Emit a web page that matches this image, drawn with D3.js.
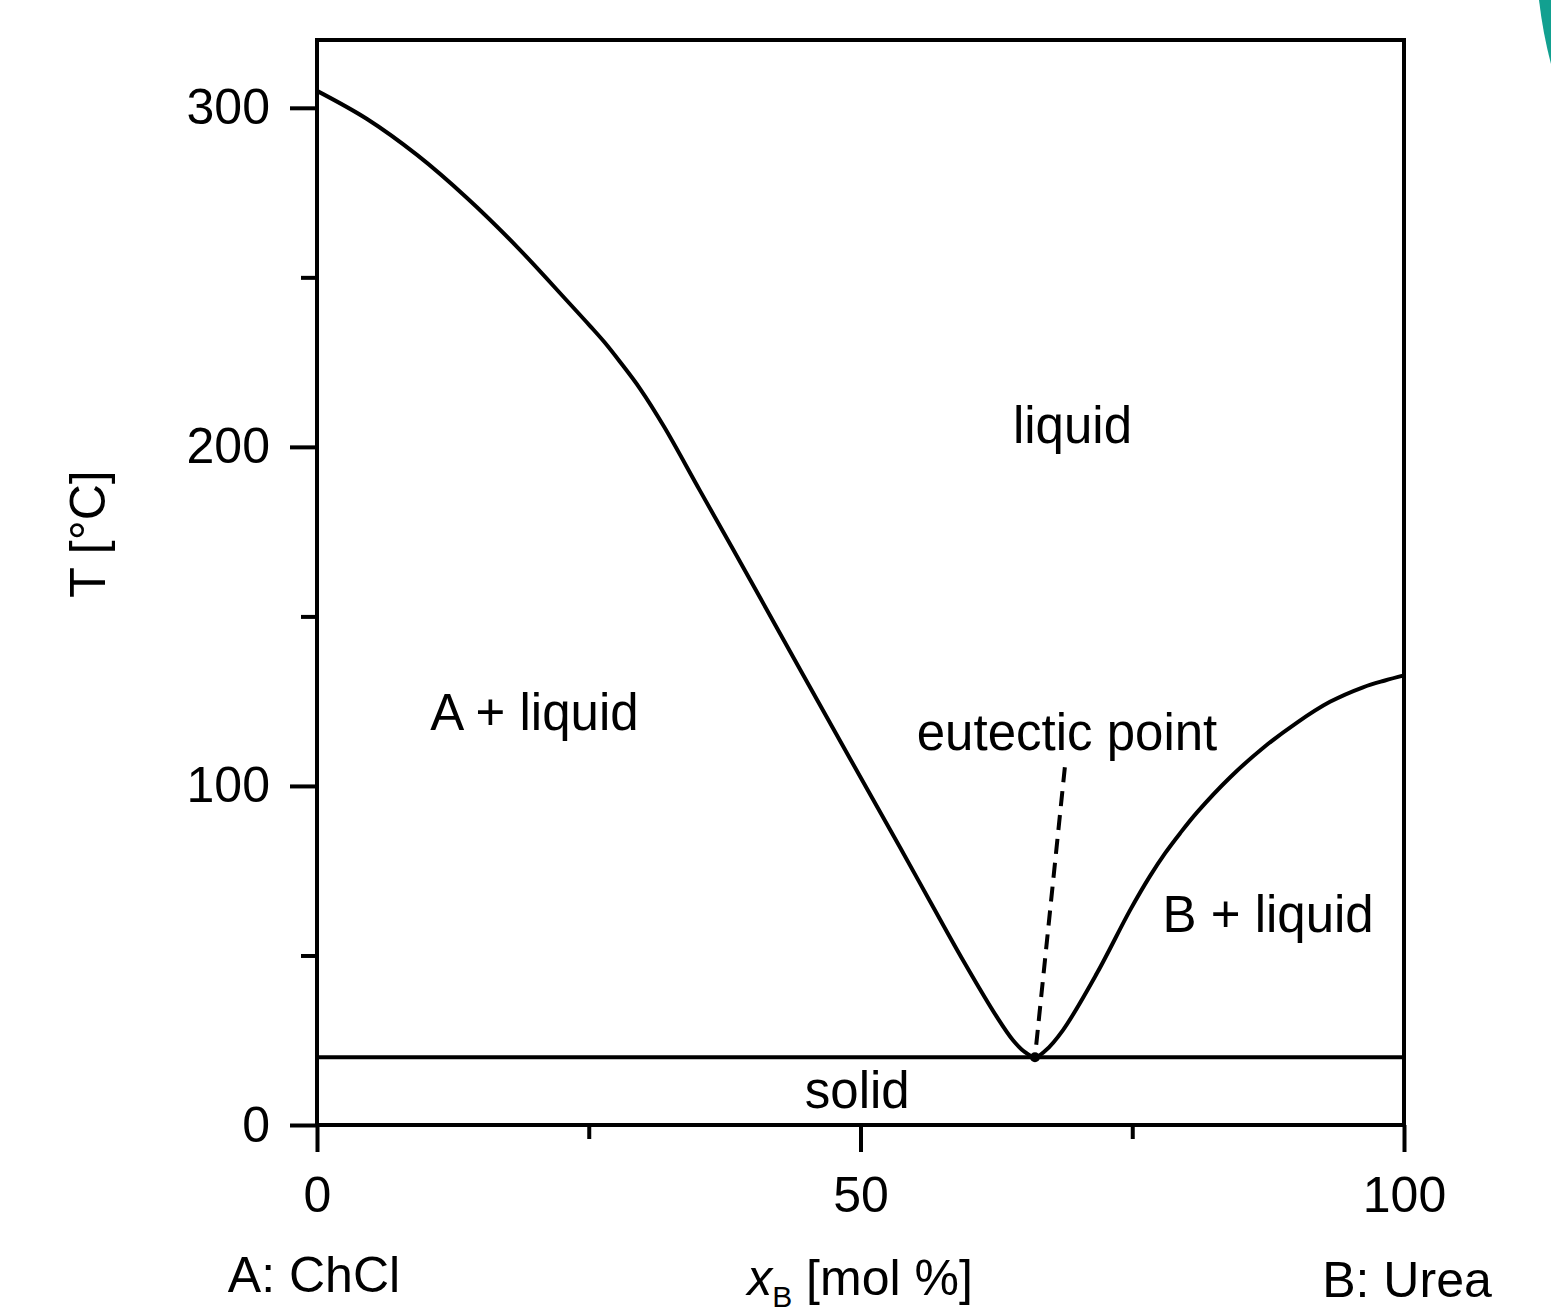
<!DOCTYPE html>
<html>
<head>
<meta charset="utf-8">
<script src="https://cdn.jsdelivr.net/npm/d3@7"></script>
<style>
  html, body { margin: 0; padding: 0; background: #fff; }
  svg { display: block; }
  text { font-family: "Liberation Sans", Arial, sans-serif; fill: #000; }
</style>
</head>
<body>
<svg id="chart" width="1551" height="1313"></svg>
<script>
// ---- data ----
const xDomain = [0, 100];
const yDomain = [0, 320];
const xMajorTicks = [0, 50, 100];
const xMinorTicks = [25, 75];
const yMajorTicks = [0, 100, 200, 300];
const yMinorTicks = [50, 150, 250];

// liquidus of A (ChCl side), mol% urea vs T [°C]
const liquidusAX = [0, 4.60, 9.20, 13.80, 18.40, 23.00, 25.11, 26.49, 27.87, 29.71, 31.92, 35.23, 39.83, 44.43, 49.03, 53.63, 56.39, 59.43, 62.56, 64.03, 65.13, 66.05];
const liquidusAT = [305.0, 296.7, 286.1, 273.4, 259.0, 243.1, 235.7, 230.7, 225.1, 217.2, 206.0, 187.1, 160.9, 134.4, 108.1, 81.9, 66.0, 48.6, 31.8, 25.0, 21.5, 20.0];
// liquidus of B (urea side)
const liquidusBX = [66.05, 66.97, 68.63, 71.76, 74.79, 76.63, 78.01, 79.39, 80.96, 83.99, 87.03, 90.16, 93.19, 96.23, 98.25, 100];
const liquidusBT = [20.0, 21.8, 28.0, 44.8, 63.3, 73.4, 80.1, 86.0, 92.2, 102.5, 111.2, 118.7, 124.8, 129.1, 131.1, 132.6];

const eutecticX = 66.05;
const eutecticT = 20.0;
const leaderTop = [68.8, 105.5];

const regionLabels = [
  { text: "liquid", x: 69.5, t: 201 },
  { text: "A + liquid", x: 20.0, t: 116.5 },
  { text: "eutectic point", x: 69.0, t: 110.5 },
  { text: "B + liquid", x: 87.5, t: 57 },
  { text: "solid", x: 49.7, t: 5.0 }
];

// ---- layout ----
const margin = { left: 317, top: 40, right: 147, bottom: 188 };
const W = 1551, H = 1313;
const iw = W - margin.left - margin.right;   // 1087
const ih = H - margin.top - margin.bottom;   // 1085
const SW = 4;

const svg = d3.select("#chart");
const g = svg.append("g").attr("transform", `translate(${margin.left},${margin.top})`);

const x = d3.scaleLinear().domain(xDomain).range([0, iw]);
const y = d3.scaleLinear().domain(yDomain).range([ih, 0]);

// decorative corner shape (top-right)
svg.append("path")
  .attr("d", "M1539,0 Q1543,34 1551,64 L1551,0 Z")
  .attr("fill", "#12a090");

// axes
const styleAxis = sel => {
  sel.select(".domain").remove();
  sel.selectAll(".tick line").attr("stroke", "#000").attr("stroke-width", SW);
  sel.selectAll(".tick text").style("font-size", "50px").attr("fill", "#000")
     .style("font-family", '"Liberation Sans", Arial, sans-serif');
};

g.append("g").attr("transform", `translate(0,${ih})`)
  .call(d3.axisBottom(x).tickValues(xMajorTicks).tickSize(27).tickPadding(24).tickFormat(d3.format("d")))
  .call(styleAxis);
g.append("g").attr("transform", `translate(0,${ih})`)
  .call(d3.axisBottom(x).tickValues(xMinorTicks).tickSize(14).tickFormat(""))
  .call(styleAxis);

g.append("g")
  .call(d3.axisLeft(y).tickValues(yMajorTicks).tickSize(27).tickPadding(20).tickFormat(d3.format("d")))
  .call(styleAxis);
g.append("g")
  .call(d3.axisLeft(y).tickValues(yMinorTicks).tickSize(16).tickFormat(""))
  .call(styleAxis);

// frame
g.append("rect")
  .attr("x", 0).attr("y", 0).attr("width", iw).attr("height", ih)
  .attr("fill", "none").attr("stroke", "#000").attr("stroke-width", SW);

// solidus (eutectic horizontal)
g.append("line")
  .attr("x1", x(0)).attr("x2", x(100))
  .attr("y1", y(eutecticT)).attr("y2", y(eutecticT))
  .attr("stroke", "#000").attr("stroke-width", SW);

// liquidus curves
const line = d3.line().x(d => x(d[0])).y(d => y(d[1])).curve(d3.curveCatmullRom.alpha(0.5));
const ptsA = liquidusAX.map((v, i) => [v, liquidusAT[i]]);
const ptsB = liquidusBX.map((v, i) => [v, liquidusBT[i]]);
g.append("path").datum(ptsA.concat(ptsB.slice(1)))
  .attr("d", line)
  .attr("fill", "none").attr("stroke", "#000").attr("stroke-width", SW)
  .attr("stroke-linejoin", "round");

// dashed leader line
g.append("line")
  .attr("x1", x(leaderTop[0])).attr("y1", y(leaderTop[1]))
  .attr("x2", x(eutecticX)).attr("y2", y(eutecticT))
  .attr("stroke", "#000").attr("stroke-width", SW).attr("stroke-dasharray", "15,9");

// eutectic dot
g.append("circle")
  .attr("cx", x(eutecticX)).attr("cy", y(eutecticT)).attr("r", 5).attr("fill", "#000");

// region labels
g.selectAll(".region")
  .data(regionLabels).enter().append("text")
  .attr("class", "region")
  .attr("x", d => x(d.x)).attr("y", d => y(d.t))
  .attr("text-anchor", "middle")
  .style("font-size", "51px")
  .text(d => d.text);

// axis titles
svg.append("text")
  .attr("transform", "translate(105,534) rotate(-90)")
  .attr("text-anchor", "middle")
  .style("font-size", "50px")
  .text("T [°C]");

const xt = svg.append("text")
  .attr("x", 860).attr("y", 1295)
  .attr("text-anchor", "middle")
  .style("font-size", "50px");
xt.append("tspan").style("font-style", "italic").text("x");
xt.append("tspan").attr("dy", 12).style("font-size", "30px").text("B");
xt.append("tspan").attr("dy", -12).text(" [mol %]");

svg.append("text")
  .attr("x", 314).attr("y", 1292)
  .attr("text-anchor", "middle")
  .style("font-size", "50px")
  .text("A: ChCl");

svg.append("text")
  .attr("x", 1407).attr("y", 1297)
  .attr("text-anchor", "middle")
  .style("font-size", "50px")
  .text("B: Urea");
</script>
</body>
</html>
